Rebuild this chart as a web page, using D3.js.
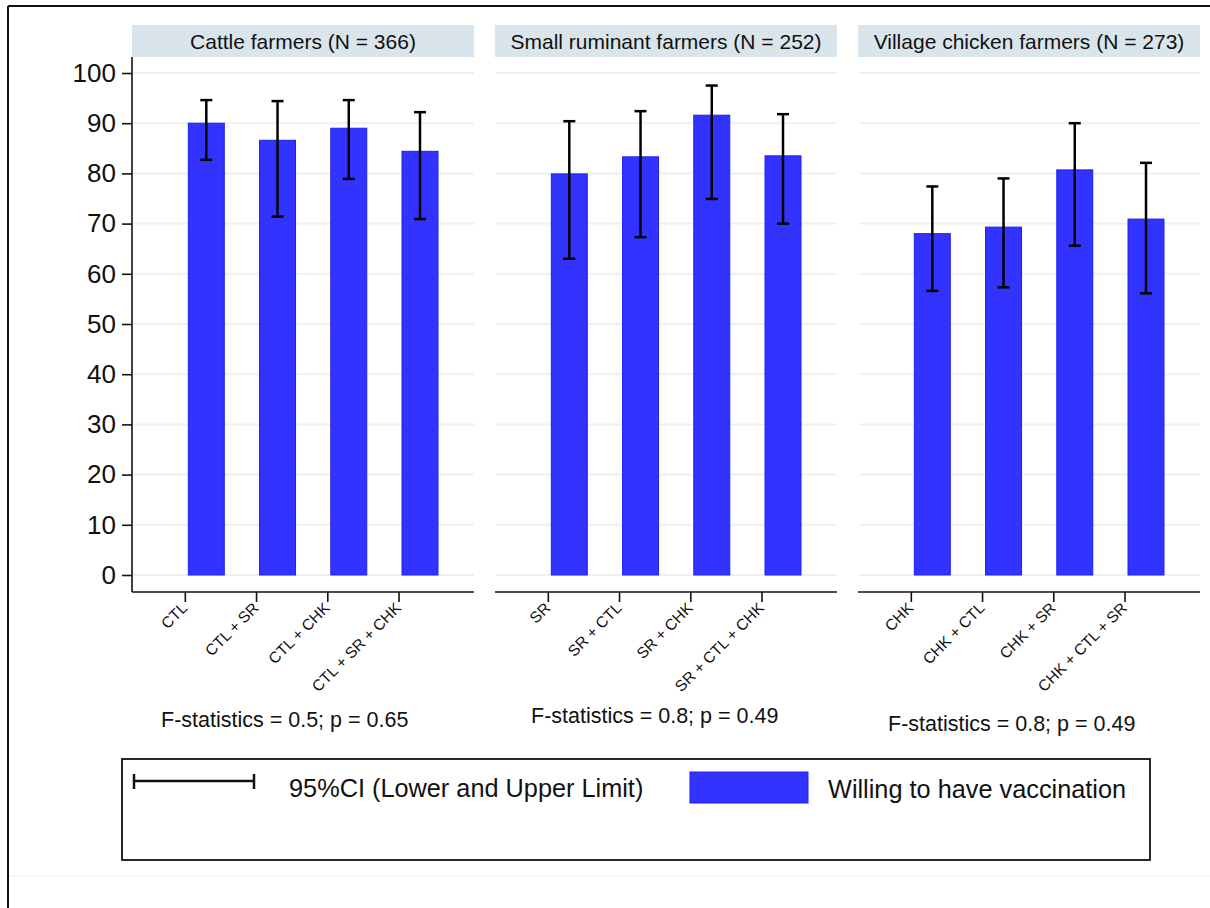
<!DOCTYPE html>
<html>
<head>
<meta charset="utf-8">
<script src="https://cdn.jsdelivr.net/npm/d3@7"></script>
<style>
  body { margin: 0; background: #fff; }
  svg { display: block; font-family: "Liberation Sans", Arial, sans-serif; }
</style>
</head>
<body>
<svg width="1210" height="908"></svg>
<script>
// panel titles
const panelTitles = ["Cattle farmers (N = 366)", "Small ruminant farmers (N = 252)", "Village chicken farmers (N = 273)"];

// categories per panel
const cattleCats = ["CTL", "CTL + SR", "CTL + CHK", "CTL + SR + CHK"];
const smallRumCats = ["SR", "SR + CTL", "SR + CHK", "SR + CTL + CHK"];
const chickenCats = ["CHK", "CHK + CTL", "CHK + SR", "CHK + CTL + SR"];

// willing to have vaccination (%)
const cattleWilling = [90.0, 86.6, 89.0, 84.4];
const smallRumWilling = [79.9, 83.3, 91.6, 83.5];
const chickenWilling = [68.0, 69.3, 80.7, 70.9];

// 95% CI lower / upper limits
const cattleLower = [82.7, 71.4, 78.9, 70.9];
const cattleUpper = [94.6, 94.4, 94.6, 92.2];
const smallRumLower = [63.0, 67.3, 74.9, 70.0];
const smallRumUpper = [90.4, 92.4, 97.5, 91.8];
const chickenLower = [56.6, 57.3, 65.6, 56.1];
const chickenUpper = [77.4, 79.0, 90.0, 82.1];

// anova notes under each panel
const fStatNotes = ["F-statistics = 0.5; p = 0.65", "F-statistics = 0.8; p = 0.49", "F-statistics = 0.8; p = 0.49"];

const yTicks = [0, 10, 20, 30, 40, 50, 60, 70, 80, 90, 100];

const legendLabels = ["95%CI (Lower and Upper Limit)", "Willing to have vaccination"];

// colours
const barColor = "#3333ff";
const barEdge = "#2020ee";
const stripColor = "#d9e5eb";
const gridColor = "#eaf2f3";

const svg = d3.select("svg");

// outer frame (only top + left visible in the picture)
svg.append("line").attr("x1", 8).attr("x2", 1212).attr("y1", 6).attr("y2", 6)
    .attr("stroke", "#111").attr("stroke-width", 2);
svg.append("line").attr("x1", 8).attr("x2", 8).attr("y1", 6).attr("y2", 910)
    .attr("stroke", "#111").attr("stroke-width", 2);
svg.append("line").attr("x1", 9).attr("x2", 1210).attr("y1", 876).attr("y2", 876)
    .attr("stroke", "#f2f2f2").attr("stroke-width", 1);

const panels = [
    { cats: cattleCats, willing: cattleWilling, lower: cattleLower, upper: cattleUpper },
    { cats: smallRumCats, willing: smallRumWilling, lower: smallRumLower, upper: smallRumUpper },
    { cats: chickenCats, willing: chickenWilling, lower: chickenLower, upper: chickenUpper }
];

const panelLeft = [132, 495, 858];
const panelWidth = 342;
const stripTop = 25, stripBottom = 57;
const axisY = 592;
// note placement (x start, baseline)
const notePos = [[161, 727], [531, 723], [888, 731]];

const y = d3.scaleLinear().domain([0, 100]).range([575, 73]);

panels.forEach((p, pi) => {
    const x0 = panelLeft[pi];
    const x = d3.scaleBand()
        .domain(p.cats)
        .range([x0, x0 + panelWidth])
        .paddingInner(0.495)
        .paddingOuter(0.648)
        .align(0.61);

    const g = svg.append("g");

    // strip header
    g.append("rect")
        .attr("x", x0).attr("y", stripTop)
        .attr("width", panelWidth).attr("height", stripBottom - stripTop)
        .attr("fill", stripColor);
    g.append("text")
        .attr("x", x0 + panelWidth / 2).attr("y", 49)
        .attr("text-anchor", "middle")
        .attr("font-size", 21)
        .attr("fill", "#111")
        .text(panelTitles[pi]);

    // grid lines
    g.append("g")
        .selectAll("line")
        .data(yTicks)
        .join("line")
        .attr("x1", x0 + 1).attr("x2", x0 + panelWidth)
        .attr("y1", d => y(d)).attr("y2", d => y(d))
        .attr("stroke", gridColor).attr("stroke-width", 2);

    // y axis on first panel only
    if (pi === 0) {
        const yAxis = g.append("g")
            .attr("transform", `translate(${x0},0)`)
            .call(d3.axisLeft(y).tickValues(yTicks).tickSize(10).tickPadding(6));
        yAxis.select(".domain").attr("d", `M0,${stripBottom}V${axisY}`).attr("stroke", "#111").attr("stroke-width", 1.6);
        yAxis.selectAll(".tick line").attr("stroke", "#111").attr("stroke-width", 1.6);
        yAxis.selectAll(".tick text")
            .attr("font-size", 26)
            .attr("font-family", "Liberation Sans, Arial, sans-serif")
            .attr("fill", "#111");
    }

    // x axis line
    g.append("line")
        .attr("x1", x0).attr("x2", x0 + panelWidth)
        .attr("y1", axisY).attr("y2", axisY)
        .attr("stroke", "#111").attr("stroke-width", 1.6);

    // x ticks sit just left of each bar
    const tickX = d => x(d) - 3;
    g.append("g")
        .selectAll("line")
        .data(p.cats)
        .join("line")
        .attr("x1", tickX).attr("x2", tickX)
        .attr("y1", axisY).attr("y2", axisY + 10)
        .attr("stroke", "#111").attr("stroke-width", 1.6);
    g.append("g")
        .selectAll("text")
        .data(p.cats)
        .join("text")
        .attr("transform", d => `translate(${tickX(d) + 3},${axisY + 17}) rotate(-45)`)
        .attr("text-anchor", "end")
        .attr("font-size", 15.5)
        .attr("fill", "#111")
        .text(d => d);

    // bars
    g.append("g")
        .selectAll("rect")
        .data(p.cats)
        .join("rect")
        .attr("x", d => x(d))
        .attr("width", x.bandwidth())
        .attr("y", (d, i) => y(p.willing[i]))
        .attr("height", (d, i) => y(0) - y(p.willing[i]))
        .attr("fill", barColor)
        .attr("stroke", barEdge)
        .attr("stroke-width", 1);

    // error bars
    const eb = g.append("g").attr("stroke", "#000").attr("stroke-width", 2.5);
    const cx = d => x(d) + x.bandwidth() / 2;
    eb.selectAll("line.v")
        .data(p.cats)
        .join("line")
        .attr("class", "v")
        .attr("x1", cx).attr("x2", cx)
        .attr("y1", (d, i) => y(p.lower[i]))
        .attr("y2", (d, i) => y(p.upper[i]));
    eb.selectAll("line.top")
        .data(p.cats)
        .join("line")
        .attr("class", "top")
        .attr("x1", d => cx(d) - 6).attr("x2", d => cx(d) + 6)
        .attr("y1", (d, i) => y(p.upper[i]))
        .attr("y2", (d, i) => y(p.upper[i]));
    eb.selectAll("line.bot")
        .data(p.cats)
        .join("line")
        .attr("class", "bot")
        .attr("x1", d => cx(d) - 6).attr("x2", d => cx(d) + 6)
        .attr("y1", (d, i) => y(p.lower[i]))
        .attr("y2", (d, i) => y(p.lower[i]));

    // F-statistics note
    g.append("text")
        .attr("x", notePos[pi][0]).attr("y", notePos[pi][1])
        .attr("font-size", 21.5)
        .attr("fill", "#111")
        .text(fStatNotes[pi]);
});

// legend
const legend = svg.append("g");
legend.append("rect")
    .attr("x", 122).attr("y", 759).attr("width", 1028).attr("height", 101)
    .attr("fill", "#fff").attr("stroke", "#111").attr("stroke-width", 1.8);
const ls = legend.append("g").attr("stroke", "#111").attr("stroke-width", 2.5);
ls.append("line").attr("x1", 134).attr("x2", 254).attr("y1", 781).attr("y2", 781);
ls.append("line").attr("x1", 134).attr("x2", 134).attr("y1", 774).attr("y2", 789);
ls.append("line").attr("x1", 254).attr("x2", 254).attr("y1", 774).attr("y2", 789);
legend.append("text")
    .attr("x", 289).attr("y", 797)
    .attr("font-size", 25.3).attr("fill", "#111")
    .text(legendLabels[0]);
legend.append("rect")
    .attr("x", 690).attr("y", 772).attr("width", 118).attr("height", 31)
    .attr("fill", barColor).attr("stroke", barEdge).attr("stroke-width", 1);
legend.append("text")
    .attr("x", 828).attr("y", 798)
    .attr("font-size", 25.3).attr("fill", "#111")
    .text(legendLabels[1]);
</script>
</body>
</html>
